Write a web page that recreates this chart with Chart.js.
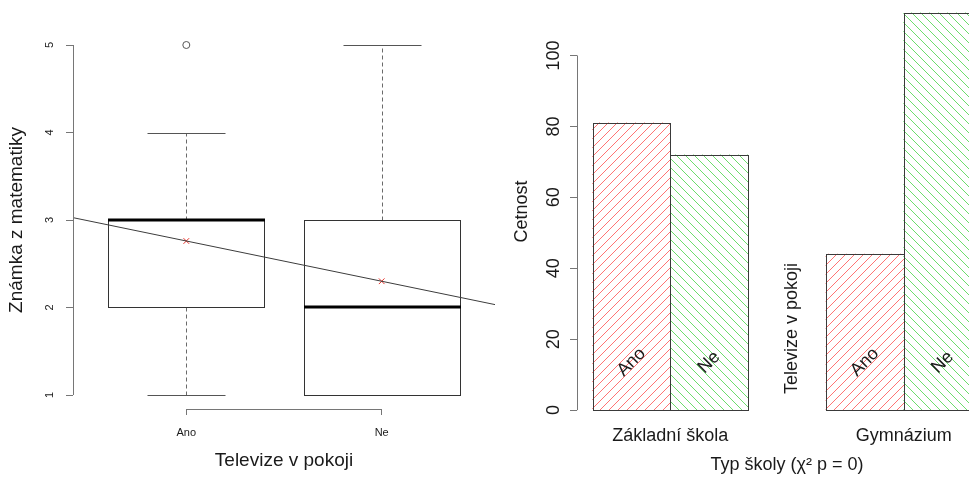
<!DOCTYPE html>
<html>
<head>
<meta charset="utf-8">
<script src="https://cdn.jsdelivr.net/npm/chart.js@4/dist/chart.umd.min.js"></script>
<style>
  html, body { margin: 0; padding: 0; background: #fff; }
  #page { position: relative; width: 969px; height: 477px; overflow: hidden; background: #fff; }
  #gradeChart { position: absolute; left: 0; top: 0; }
  #countWrap { position: absolute; left: 500px; top: 0; width: 469px; height: 477px; overflow: hidden; }
  #countChart { position: absolute; left: 0; top: -3px; }
</style>
</head>
<body>
<div id="page">
  <canvas id="gradeChart" width="500" height="477"></canvas>
  <div id="countWrap"><canvas id="countChart" width="521" height="480"></canvas></div>
</div>
<script>
// ---- Maths grade by TV in the bedroom (box plot) ----
const tvAnswers = ['Ano', 'Ne'];
const gradeQ1 = [2, 1];
const gradeMedian = [3, 2];
const gradeQ3 = [3, 3];
const gradeWhiskerLow = [1, 1];
const gradeWhiskerHigh = [4, 5];
const gradeOutliers = [[5], []];
const gradeMeans = [2.76, 2.30];
const gradeTicks = [1, 2, 3, 4, 5];

// ---- Counts by school type and TV in the bedroom (bar plot) ----
const schoolTypes = ['Základní škola', 'Gymnázium'];
const countsAno = [81, 44];
const countsNe = [72, 112];
const countTicks = [0, 20, 40, 60, 80, 100];

const FONT = "'Liberation Sans', Arial, Helvetica, sans-serif";
const INK = '#1a1a1a';
const AXIS = '#767676';
Chart.defaults.font.family = FONT;
Chart.defaults.color = INK;

// R-style axis limits: data range widened by 4 % on each side
const widen = (lo, hi) => { const p = 0.04 * (hi - lo); return [lo - p, hi + p]; };

// Axis lines spanning only from the first to the last tick
const axisLines = {
  id: 'axisLines',
  afterDraw(chart, args, opts) {
    const { ctx, chartArea, scales } = chart;
    ctx.save();
    ctx.strokeStyle = AXIS;
    ctx.lineWidth = 1;
    const ys = scales.y, yt = ys.ticks;
    const ax = Math.floor(chartArea.left) + 0.5;
    ctx.beginPath();
    ctx.moveTo(ax, ys.getPixelForValue(yt[0].value));
    ctx.lineTo(ax, ys.getPixelForValue(yt[yt.length - 1].value));
    ctx.stroke();
    if (opts.xLine) {
      const xs = scales.x, xt = xs.ticks;
      const ay = Math.floor(chartArea.bottom) + 0.5;
      ctx.beginPath();
      ctx.moveTo(xs.getPixelForValue(xt[0].value), ay);
      ctx.lineTo(xs.getPixelForValue(xt[xt.length - 1].value), ay);
      ctx.stroke();
    }
    ctx.restore();
  }
};

// ---------- left panel: box plot ----------
const boxWidth = 0.8, capWidth = 0.4;
const [gxMin, gxMax] = widen(0.5, tvAnswers.length + 0.5);
const allGrades = [...gradeWhiskerLow, ...gradeWhiskerHigh, ...gradeOutliers.flat()];
const [gyMin, gyMax] = widen(Math.min(...allGrades), Math.max(...allGrades));
const trend = x => gradeMeans[0] + (gradeMeans[1] - gradeMeans[0]) * (x - 1);

const boxes = {
  id: 'boxes',
  beforeDatasetsDraw(chart) {
    const { ctx, scales: { x, y } } = chart;
    const px = v => Math.round(x.getPixelForValue(v)) + 0.5;
    const py = v => Math.round(y.getPixelForValue(v)) + 0.5;
    ctx.save();
    ctx.lineWidth = 1;
    tvAnswers.forEach((_, i) => {
      const c = i + 1;
      const xc = px(c);
      // whiskers
      ctx.strokeStyle = '#6a6a6a';
      ctx.setLineDash([4, 3]);
      ctx.beginPath();
      if (gradeWhiskerHigh[i] > gradeQ3[i]) { ctx.moveTo(xc, py(gradeQ3[i])); ctx.lineTo(xc, py(gradeWhiskerHigh[i])); }
      if (gradeWhiskerLow[i] < gradeQ1[i]) { ctx.moveTo(xc, py(gradeQ1[i])); ctx.lineTo(xc, py(gradeWhiskerLow[i])); }
      ctx.stroke();
      ctx.setLineDash([]);
      // caps
      ctx.strokeStyle = '#555';
      ctx.beginPath();
      [gradeWhiskerLow[i], gradeWhiskerHigh[i]].forEach(v => {
        ctx.moveTo(px(c - capWidth / 2), py(v));
        ctx.lineTo(px(c + capWidth / 2), py(v));
      });
      ctx.stroke();
      // box
      ctx.strokeStyle = '#333';
      const l = px(c - boxWidth / 2), r = px(c + boxWidth / 2);
      ctx.strokeRect(l, py(gradeQ3[i]), r - l, py(gradeQ1[i]) - py(gradeQ3[i]));
      // median
      ctx.strokeStyle = '#000';
      ctx.lineWidth = 3;
      ctx.beginPath();
      const ym = Math.round(y.getPixelForValue(gradeMedian[i]));
      ctx.moveTo(l - 0.5, ym);
      ctx.lineTo(r + 0.5, ym);
      ctx.stroke();
      ctx.lineWidth = 1;
    });
    ctx.restore();
  }
};

new Chart(document.getElementById('gradeChart'), {
  type: 'scatter',
  data: {
    datasets: [
      {
        type: 'line',
        data: [{ x: gxMin, y: trend(gxMin) }, { x: gxMax, y: trend(gxMax) }],
        borderColor: '#3c3c3c', borderWidth: 1, pointRadius: 0, fill: false, clip: 4
      },
      {
        data: gradeMeans.map((m, i) => ({ x: i + 1, y: m })),
        pointStyle: 'crossRot', pointRadius: 4, borderColor: '#e8332b', borderWidth: 1
      },
      {
        data: gradeOutliers.flatMap((vals, i) => vals.map(v => ({ x: i + 1, y: v }))),
        pointStyle: 'circle', pointRadius: 3.5, borderColor: '#555', backgroundColor: 'rgba(0,0,0,0)', borderWidth: 1
      }
    ]
  },
  options: {
    responsive: false, animation: false, devicePixelRatio: 1,
    layout: { padding: { left: 0, top: 31, right: 2, bottom: 0 } },
    plugins: { legend: { display: false }, tooltip: { enabled: false }, axisLines: { xLine: true } },
    scales: {
      x: {
        type: 'linear', min: gxMin, max: gxMax, offset: false,
        afterBuildTicks: s => { s.ticks = tvAnswers.map((_, i) => ({ value: i + 1 })); },
        ticks: { callback: (v, i) => tvAnswers[i], font: { size: 11 }, padding: 11, autoSkip: false, maxRotation: 0 },
        grid: { drawOnChartArea: false, drawTicks: true, tickLength: 6, color: AXIS },
        border: { display: false },
        title: { display: true, text: 'Televize v pokoji', font: { size: 19 }, padding: { top: 0, bottom: 5 } },
        afterFit: s => { s.height = 68; s.paddingLeft = 0; s.paddingRight = 0; }
      },
      y: {
        min: gyMin, max: gyMax,
        afterBuildTicks: s => { s.ticks = gradeTicks.map(v => ({ value: v })); },
        ticks: { minRotation: 90, maxRotation: 90, crossAlign: 'center', font: { size: 11 }, padding: 13 },
        grid: { drawOnChartArea: false, drawTicks: true, tickLength: 7, color: AXIS },
        border: { display: false },
        title: { display: true, text: 'Známka z matematiky', font: { size: 19 }, padding: { top: 5, bottom: 0 } },
        afterFit: s => { s.width = 73; s.paddingTop = 0; s.paddingBottom = 0; }
      }
    }
  },
  plugins: [boxes, axisLines]
});

// ---------- right panel: hatched bar plot ----------
const countCanvas = document.getElementById('countChart');
function hatch(color, step, rising) {
  const c = document.createElement('canvas');
  c.width = c.height = step;
  const g = c.getContext('2d');
  g.strokeStyle = color;
  g.lineWidth = 1;
  for (let k = -1; k <= 1; k++) {
    g.beginPath();
    if (rising) { g.moveTo(k * step, step); g.lineTo(k * step + step, 0); }
    else { g.moveTo(k * step, 0); g.lineTo(k * step + step, step); }
    g.stroke();
  }
  return countCanvas.getContext('2d').createPattern(c, 'repeat');
}
const fills = [hatch('rgba(255,30,30,0.62)', 9, true), hatch('rgba(20,200,20,0.62)', 9, false)];
const countSeries = [countsAno, countsNe];

// bars of a group sit side by side, groups separated by one bar width
const perGroup = tvAnswers.length;
const barCenter = (g, j) => 1 + g * (perGroup + 1) + j + 0.5;
const groupCenter = g => 1 + g * (perGroup + 1) + perGroup / 2;
const [bxMin, bxMax] = widen(1, 1 + schoolTypes.length * (perGroup + 1) - 1);
const [byMin, byMax] = widen(0, Math.max(...countsAno, ...countsNe));
const innerLabelLevel = 13.5;
const sideLabelLevel = 23;

const barDecor = {
  id: 'barDecor',
  afterDatasetsDraw(chart) {
    const { ctx, scales: { x, y } } = chart;
    ctx.save();
    // outlines
    ctx.strokeStyle = '#3a3a3a';
    ctx.lineWidth = 1;
    chart.data.datasets.forEach((ds, j) => {
      chart.getDatasetMeta(j).data.forEach(bar => {
        const p = bar.getProps(['x', 'y', 'base', 'width'], true);
        const l = Math.round(p.x - p.width / 2) + 0.5, r = Math.round(p.x + p.width / 2) + 0.5;
        const t = Math.round(p.y) + 0.5, b = Math.round(p.base) + 0.5;
        ctx.strokeRect(l, t, r - l, b - t);
      });
    });
    // bar names written diagonally inside the bars
    ctx.fillStyle = INK;
    ctx.font = '18px ' + FONT;
    ctx.textAlign = 'center';
    ctx.textBaseline = 'middle';
    schoolTypes.forEach((_, g) => {
      tvAnswers.forEach((name, j) => {
        ctx.save();
        ctx.translate(x.getPixelForValue(barCenter(g, j)), y.getPixelForValue(innerLabelLevel));
        ctx.rotate(-Math.PI / 4);
        ctx.fillText(name, 0, 0);
        ctx.restore();
      });
    });
    // factor name between the groups
    ctx.save();
    ctx.translate(x.getPixelForValue((groupCenter(0) + groupCenter(1)) / 2) + 5, y.getPixelForValue(sideLabelLevel));
    ctx.rotate(-Math.PI / 2);
    ctx.fillText('Televize v pokoji', 0, 0);
    ctx.restore();
    ctx.restore();
  }
};

new Chart(countCanvas, {
  type: 'bar',
  data: {
    datasets: tvAnswers.map((name, j) => ({
      label: name,
      data: schoolTypes.map((_, g) => ({ x: barCenter(g, j), y: countSeries[j][g] })),
      backgroundColor: fills[j],
      borderWidth: 0,
      grouped: false, barPercentage: 1, categoryPercentage: 1
    }))
  },
  options: {
    responsive: false, animation: false, devicePixelRatio: 1,
    layout: { padding: { left: 0, top: 0, right: 24, bottom: 0 } },
    plugins: { legend: { display: false }, tooltip: { enabled: false }, axisLines: { xLine: false } },
    scales: {
      x: {
        type: 'linear', min: bxMin, max: bxMax, offset: false,
        afterBuildTicks: s => { s.ticks = schoolTypes.map((_, g) => ({ value: groupCenter(g) })); },
        ticks: { callback: (v, i) => schoolTypes[i], font: { size: 18, lineHeight: 1.1 }, padding: 0, autoSkip: false, maxRotation: 0 },
        grid: { display: false, drawTicks: false },
        border: { display: false },
        title: { display: true, text: 'Typ školy (χ² p = 0)', font: { size: 18 }, padding: { top: 0, bottom: 1 } },
        afterFit: s => { s.height = 51; s.paddingLeft = 0; s.paddingRight = 0; }
      },
      y: {
        min: byMin, max: byMax,
        afterBuildTicks: s => { s.ticks = countTicks.map(v => ({ value: v })); },
        ticks: { minRotation: 90, maxRotation: 90, crossAlign: 'center', font: { size: 18 }, padding: 1 },
        grid: { drawOnChartArea: false, drawTicks: true, tickLength: 7, color: AXIS },
        border: { display: false },
        title: { display: true, text: 'Cetnost', font: { size: 18 }, padding: { top: 11, bottom: 0 } },
        afterFit: s => { s.width = 77; s.paddingTop = 0; s.paddingBottom = 0; }
      }
    }
  },
  plugins: [barDecor, axisLines]
});
</script>
</body>
</html>
